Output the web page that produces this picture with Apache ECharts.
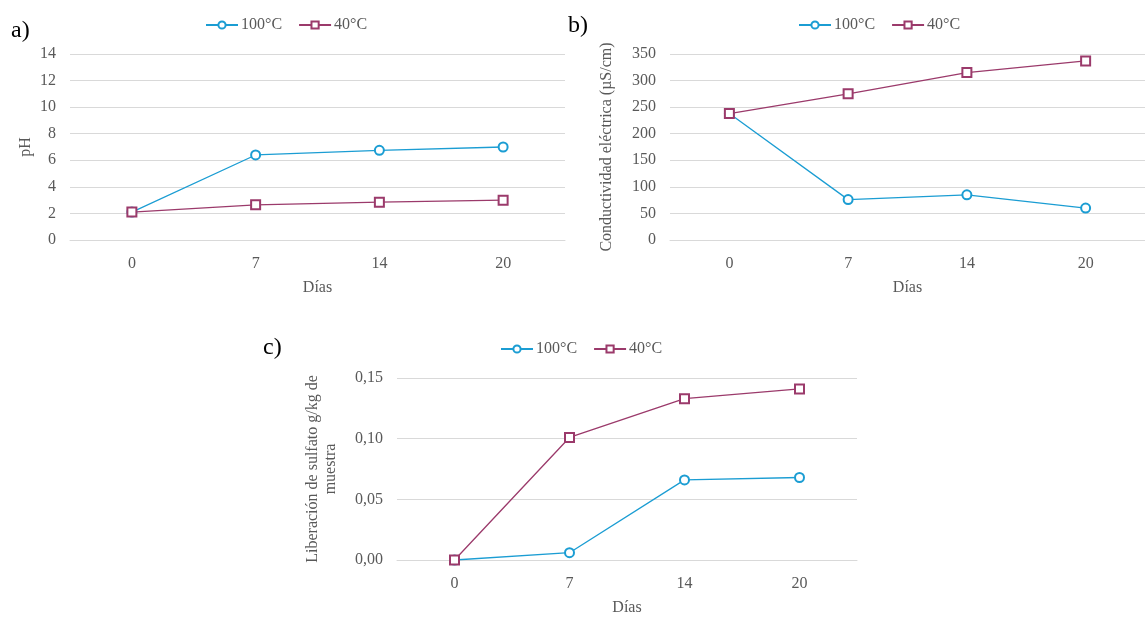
<!DOCTYPE html>
<html><head><meta charset="utf-8">
<script src="https://cdn.jsdelivr.net/npm/echarts@6/dist/echarts.min.js"></script>
<style>html,body{margin:0;padding:0;background:#fff}#c{width:1145px;height:617px}</style>
</head><body><div id="c"></div>
<script>
const dias = ['0','7','14','20'];
const seriesNames = ['100°C','40°C'];
const ph100 = [2.1, 6.4, 6.75, 7.0];
const ph40 = [2.1, 2.65, 2.85, 3.0];
const ce100 = [238, 76, 85, 60];
const ce40 = [238, 275, 315, 337];
const sulf100 = [0.0, 0.006, 0.066, 0.068];
const sulf40 = [0.0, 0.101, 0.133, 0.141];

const FONT = 'Liberation Serif';
const GRAY = '#595959';
const BLUE = '#1b9dd3';
const PURPLE = '#9b3a6b';

function xAx(gi){
  return {type:'category', gridIndex:gi, data:dias, boundaryGap:true,
    name:'Días', nameLocation:'middle', nameGap:40,
    nameTextStyle:{fontFamily:FONT, fontSize:16, color:GRAY},
    axisLine:{lineStyle:{color:'#d9d9d9'}}, axisTick:{show:false},
    axisLabel:{fontFamily:FONT, fontSize:16, color:GRAY, margin:16}};
}
function yAx(gi, min, max, interval, name, gap, fmt){
  return {type:'value', gridIndex:gi, min:min, max:max, interval:interval,
    name:name, nameLocation:'middle', nameGap:gap,
    nameTextStyle:{fontFamily:FONT, fontSize:16, color:GRAY, lineHeight:18},
    axisLine:{show:false}, axisTick:{show:false},
    splitLine:{lineStyle:{color:'#d9d9d9'}},
    axisLabel:{fontFamily:FONT, fontSize:16, color:GRAY, margin:14, formatter:fmt}};
}
function ser(name, data, gi, color, symbol){
  return {name:name, type:'line', xAxisIndex:gi, yAxisIndex:gi, data:data,
    symbol:symbol, symbolSize:9, showAllSymbol:true,
    itemStyle:{color:color, borderColor:color, borderWidth:1.3},
    lineStyle:{color:color, width:1.3}, animation:false};
}
function leg(left, top){
  return {data:seriesNames, left:left, top:top, itemWidth:32, itemHeight:9, itemGap:16,
    textStyle:{fontFamily:FONT, fontSize:16, color:GRAY, padding:[0,0,0,-2]}};
}
const fmtC = v => v.toFixed(2).replace('.', ',');

const option = {
  animation:false,
  title:[
    {text:'a)', left:6, top:14, textStyle:{fontFamily:FONT, fontSize:24, fontWeight:'normal', color:'#000'}},
    {text:'b)', left:563, top:9, textStyle:{fontFamily:FONT, fontSize:24, fontWeight:'normal', color:'#000'}},
    {text:'c)', left:258, top:331, textStyle:{fontFamily:FONT, fontSize:24, fontWeight:'normal', color:'#000'}}
  ],
  legend:[leg(200, 12), leg(793, 12), leg(495, 336)],
  grid:[
    {left:70, top:54, width:495, height:186},
    {left:670, top:54, width:484, height:186},
    {left:397, top:378, width:460, height:186}
  ],
  xAxis:[xAx(0), xAx(1), xAx(2)],
  yAxis:[
    yAx(0, 0, 14, 2, 'pH', 35),
    yAx(1, 0, 350, 50, 'Conductividad eléctrica (µS/cm)', 54),
    yAx(2, 0, 0.15, 0.05, 'Liberación de sulfato g/kg de\nmuestra', 57, fmtC)
  ],
  series:[
    ser('100°C', ph100, 0, BLUE, 'emptyCircle'),
    ser('40°C', ph40, 0, PURPLE, 'emptyRect'),
    ser('100°C', ce100, 1, BLUE, 'emptyCircle'),
    ser('40°C', ce40, 1, PURPLE, 'emptyRect'),
    ser('100°C', sulf100, 2, BLUE, 'emptyCircle'),
    ser('40°C', sulf40, 2, PURPLE, 'emptyRect')
  ]
};
const chart = echarts.init(document.getElementById('c'), null, {renderer:'canvas'});
chart.setOption(option);
</script></body></html>
